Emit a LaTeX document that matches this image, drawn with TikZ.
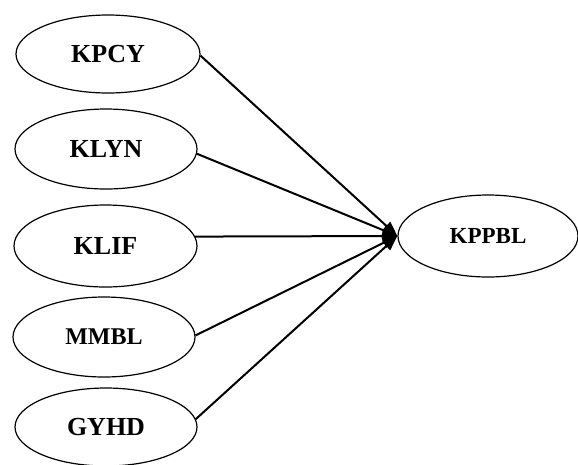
\documentclass[tikz,border=0pt]{standalone}
\usepackage{fontspec}
\setmainfont{Liberation Serif}
\usetikzlibrary{shapes.geometric,arrows.meta}
\tikzset{
  ell/.style={draw, ellipse, line width=1.2pt, inner sep=0pt,
    minimum width=184pt, minimum height=80pt,
    font=\bfseries\fontsize{26}{30}\selectfont},
  conn/.style={line width=2pt, -{Triangle[length=15pt,width=11pt]}}
}
\begin{document}
\begin{tikzpicture}[x=1pt,y=-1pt]
\useasboundingbox (0,0) rectangle (578,464);
\node[ell, minimum height=78pt] (kpcy) at (108,54) {KPCY};
\node[ell, minimum width=182pt] (klyn) at (106,149) {KLYN};
\node[ell, minimum width=183pt, minimum height=82pt] (klif) at (105.5,246) {KLIF};
\node[ell, minimum width=182pt, font=\bfseries\fontsize{24}{28}\selectfont] (mmbl) at (104,337) {MMBL};
\node[ell, minimum width=182pt, minimum height=78pt] (gyhd) at (106,427) {GYHD};
\node[ell, minimum width=180pt, minimum height=82pt, font=\bfseries\fontsize{23}{27}\selectfont] (kppbl) at (488,236) {KPPBL};
\draw[conn] (kpcy.-1) -- (kppbl.west);
\draw[conn] (klyn.-3) -- (kppbl.west);
\draw[conn] (klif.6) -- (kppbl.west);
\draw[conn] (mmbl.1) -- (kppbl.west);
\draw[conn] (gyhd.5) -- (kppbl.west);
\end{tikzpicture}
\end{document}
